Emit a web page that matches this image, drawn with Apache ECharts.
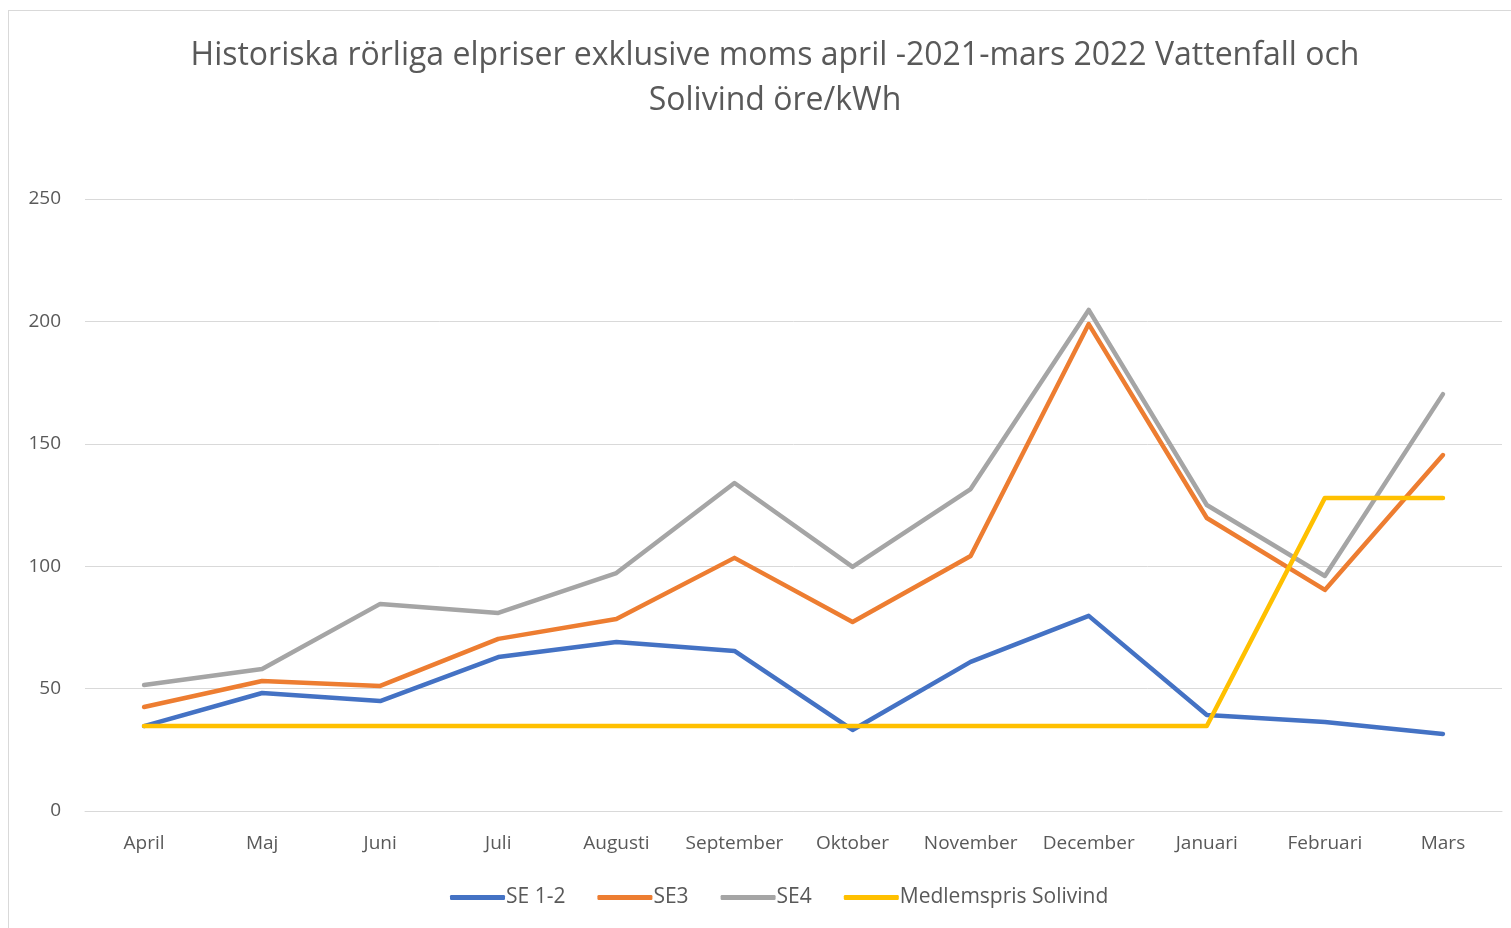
<!DOCTYPE html>
<html>
<head>
<meta charset="utf-8">
<script src="https://cdn.jsdelivr.net/npm/echarts@6/dist/echarts.min.js"></script>
<style>
  html, body { margin: 0; padding: 0; background: #fff; }
  #frame { position: absolute; left: 8px; top: 10px; width: 1520px; height: 940px; border: 1px solid #d9d9d9; }
  #chart { position: absolute; left: 0; top: 0; width: 1511px; height: 928px; }
</style>
</head>
<body>
<div id="frame"></div>
<div id="chart"></div>
<script>
// månader
const months = ['April', 'Maj', 'Juni', 'Juli', 'Augusti', 'September', 'Oktober', 'November', 'December', 'Januari', 'Februari', 'Mars'];

// priser öre/kWh
const se12 = [34.7, 48.2, 44.9, 62.9, 69.0, 65.4, 33.1, 60.9, 79.7, 39.2, 36.4, 31.5];
const se3 = [42.5, 53.1, 51.1, 70.3, 78.4, 103.4, 77.2, 104.2, 198.9, 119.7, 90.3, 145.4];
const se4 = [51.5, 58.0, 84.6, 80.9, 97.2, 134.0, 99.7, 131.5, 204.7, 125.0, 96.0, 170.3];
const solivind = [34.7, 34.7, 34.7, 34.7, 34.7, 34.7, 34.7, 34.7, 34.7, 34.7, 127.9, 127.9];

const seriesNames = ['SE 1-2', 'SE3', 'SE4', 'Medlemspris Solivind'];
const colors = ['#4472C4', '#ED7D31', '#A5A5A5', '#FFC000'];

const font = '"Open Sans", "Noto Sans", sans-serif';

function lineSeries(name, data, color) {
    return {
        name: name,
        type: 'line',
        data: data,
        symbol: 'none',
        lineStyle: { width: 4.5, color: color, cap: 'round', join: 'round' },
        itemStyle: { color: color },
        animation: false,
    };
}

const chart = echarts.init(document.getElementById('chart'), null, { renderer: 'canvas' });
chart.setOption({
    animation: false,
    title: {
        text: 'Historiska rörliga elpriser exklusive moms april -2021-mars 2022 Vattenfall och\nSolivind öre/kWh',
        left: 770,
        textAlign: 'center',
        top: 28,
        textStyle: {
            fontFamily: font,
            fontSize: 32,
            fontWeight: 'normal',
            color: '#595959',
            lineHeight: 45,
        },
    },
    grid: { left: 85, right: 9, top: 199, bottom: 117, containLabel: false },
    legend: {
        data: seriesNames,
        bottom: 15,
        left: 445,
        icon: 'roundRect',
        itemWidth: 55,
        itemHeight: 5,
        itemGap: 32,
        textStyle: { fontFamily: font, fontSize: 21, color: '#595959', padding: [0, 0, 0, -4] },
    },
    xAxis: {
        type: 'category',
        data: months,
        boundaryGap: true,
        axisLine: { show: true, lineStyle: { color: '#d9d9d9', width: 1 } },
        axisTick: { show: false },
        axisLabel: { fontFamily: font, fontSize: 19, color: '#595959', margin: 23, interval: 0 },
    },
    yAxis: {
        type: 'value',
        min: 0,
        max: 250,
        interval: 50,
        axisLine: { show: false },
        axisTick: { show: false },
        axisLabel: { fontFamily: font, fontSize: 19, color: '#595959', margin: 24 },
        splitLine: { lineStyle: { color: '#d9d9d9', width: 1 } },
    },
    series: [
        lineSeries(seriesNames[0], se12, colors[0]),
        lineSeries(seriesNames[1], se3, colors[1]),
        lineSeries(seriesNames[2], se4, colors[2]),
        lineSeries(seriesNames[3], solivind, colors[3]),
    ],
});
window.addEventListener('resize', () => {
    chart.resize();
});
</script>
</body>
</html>
